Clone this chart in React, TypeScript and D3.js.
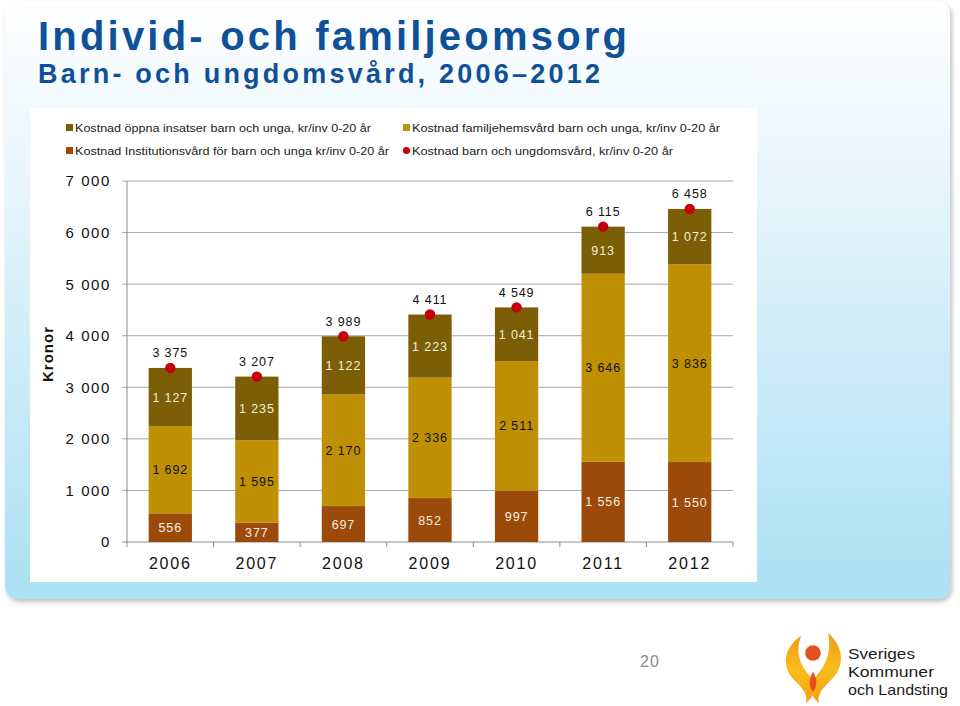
import React from "react";
import * as d3 from "d3";

const years = ["2006", "2007", "2008", "2009", "2010", "2011", "2012"];
const institution = [556, 377, 697, 852, 997, 1556, 1550];
const familjehem = [1692, 1595, 2170, 2336, 2511, 3646, 3836];
const oppna = [1127, 1235, 1122, 1223, 1041, 913, 1072];
const totals = [3375, 3207, 3989, 4411, 4549, 6115, 6458];
const yTicks = [0, 1000, 2000, 3000, 4000, 5000, 6000, 7000];

const seriesNames = [
  "Kostnad öppna insatser barn och unga, kr/inv 0-20 år",
  "Kostnad familjehemsvård barn och unga, kr/inv 0-20 år",
  "Kostnad Institutionsvård för barn och unga kr/inv 0-20 år",
  "Kostnad barn och ungdomsvård, kr/inv 0-20 år",
];

const C_INST = "#9b4a0a";
const C_FAM = "#bf9004";
const C_OPP = "#7b5e06";
const C_RED = "#c4000b";
const FONT = "'Liberation Sans', Arial, sans-serif";
const NARROW = "'Liberation Sans Narrow', 'Arial Narrow', 'Liberation Sans', sans-serif";

const fmt = (v: number) => {
  const s = String(v);
  return s.length > 3 ? s.slice(0, s.length - 3) + " " + s.slice(s.length - 3) : s;
};

export default function App() {
  const x = d3.scaleBand<string>().domain(years).range([127, 733]).paddingInner(0.5).paddingOuter(0.25);
  const y = d3.scaleLinear().domain([0, 7000]).range([542, 181]);
  const step = x.step();

  const rows = years.map((yr, i) => ({
    year: yr,
    institution: institution[i],
    familjehem: familjehem[i],
    oppna: oppna[i],
  }));
  const stack = d3.stack<any>().keys(["institution", "familjehem", "oppna"])(rows);
  const colors: Record<string, string> = { institution: C_INST, familjehem: C_FAM, oppna: C_OPP };
  const textColors: Record<string, string> = { institution: "#f6efe0", familjehem: "#111", oppna: "#f4efd8" };

  const legend = [
    { x: 66, y: 128, type: "rect", color: C_OPP, text: seriesNames[0], len: 296 },
    { x: 403, y: 128, type: "rect", color: C_FAM, text: seriesNames[1], len: 308 },
    { x: 66, y: 151, type: "rect", color: C_INST, text: seriesNames[2], len: 314 },
    { x: 403, y: 151, type: "dot", color: C_RED, text: seriesNames[3], len: 261 },
  ];

  const logoFont = "'Liberation Sans', Arial, sans-serif";
  const logoLines = [
    { t: "Sveriges", y: 659, len: 67 },
    { t: "Kommuner", y: 677, len: 86 },
    { t: "och Landsting", y: 695, len: 100 },
  ];

  return (
    <svg width={960} height={706} style={{ position: "absolute", left: 0, top: 0, background: "#fff" }} fontFamily={FONT}>
      <defs>
        <linearGradient id="panelGrad" x1="0" y1="0" x2="0" y2="1">
          <stop offset="0%" stopColor="#ffffff" />
          <stop offset="18%" stopColor="#f1f9fd" />
          <stop offset="55%" stopColor="#d2edf8" />
          <stop offset="100%" stopColor="#aae1f3" />
        </linearGradient>
        <filter id="shadow" x="-5%" y="-5%" width="110%" height="110%">
          <feDropShadow dx="2" dy="3" stdDeviation="2.5" floodColor="#000" floodOpacity="0.25" />
        </filter>
        <linearGradient id="flame" x1="0" y1="0" x2="0" y2="1">
          <stop offset="0%" stopColor="#f39a12" />
          <stop offset="50%" stopColor="#f8bd1c" />
          <stop offset="100%" stopColor="#f3a010" />
        </linearGradient>
      </defs>

      {/* panel */}
      <rect x={5} y={1} width={945} height={598} rx={13} fill="url(#panelGrad)" filter="url(#shadow)" />
      <rect x={30} y={108} width={727} height={474} fill="#ffffff" />

      {/* title */}
      <text x={38} y={50} fontSize={40} fontWeight="bold" fill="#0f5198" fontFamily={NARROW} textLength={589} lengthAdjust="spacing">
        Individ- och familjeomsorg
      </text>
      <text x={38} y={83} fontSize={27} fontWeight="bold" fill="#0f5198" fontFamily={NARROW} textLength={562} lengthAdjust="spacing">
        Barn- och ungdomsvård, 2006–2012
      </text>

      {/* legend */}
      {legend.map((l, i) => (
        <g key={i}>
          {l.type === "rect" ? (
            <rect x={l.x} y={l.y - 4} width={7} height={7} fill={l.color} />
          ) : (
            <circle cx={l.x + 3.5} cy={l.y - 0.5} r={3.6} fill={l.color} />
          )}
          <text x={l.x + 9} y={l.y + 4} fontSize={11.5} fill="#222" textLength={l.len} lengthAdjust="spacingAndGlyphs">
            {l.text}
          </text>
        </g>
      ))}

      {/* gridlines & y axis */}
      {yTicks.map((t) => (
        <g key={t}>
          {t > 0 && <line x1={122} x2={733} y1={y(t)} y2={y(t)} stroke="#a8a8a8" strokeWidth={1} />}
          {t === 0 && <line x1={122} x2={127} y1={y(t)} y2={y(t)} stroke="#8c8c8c" strokeWidth={1} />}
          <text x={111} y={y(t)} dy="0.36em" textAnchor="end" fontSize={15} letterSpacing={1.6} fill="#111">
            {fmt(t)}
          </text>
        </g>
      ))}
      <line x1={127} x2={127} y1={y(7000)} y2={y(0)} stroke="#8c8c8c" strokeWidth={1} />
      <line x1={127} x2={733} y1={y(0)} y2={y(0)} stroke="#8c8c8c" strokeWidth={1} />
      {d3.range(8).map((k) => (
        <line key={k} x1={127 + k * step} x2={127 + k * step} y1={y(0)} y2={y(0) + 5} stroke="#8c8c8c" strokeWidth={1} />
      ))}
      <text transform={`translate(53,354) rotate(-90)`} textAnchor="middle" fontSize={15} fontWeight="bold" letterSpacing={1} fill="#111">
        Kronor
      </text>

      {/* bars */}
      {stack.map((s) => (
        <g key={s.key}>
          {s.map((d, i) => {
            const yr = years[i];
            const x0 = x(yr)!;
            const top = y(d[1]);
            const bot = y(d[0]);
            return (
              <g key={yr}>
                <rect x={x0} y={top} width={x.bandwidth()} height={bot - top} fill={colors[s.key]} />
                <text
                  x={x0 + x.bandwidth() / 2}
                  y={(top + bot) / 2}
                  dy="0.36em"
                  textAnchor="middle"
                  fontSize={12.5}
                  letterSpacing={0.9}
                  fill={textColors[s.key]}
                >
                  {fmt(d[1] - d[0])}
                </text>
              </g>
            );
          })}
        </g>
      ))}

      {/* totals */}
      {totals.map((t, i) => {
        const cx = x(years[i])! + x.bandwidth() / 2;
        return (
          <g key={i}>
            <circle cx={cx} cy={y(t)} r={5.2} fill={C_RED} />
            <text x={cx} y={y(t) - 15} dy="0.36em" textAnchor="middle" fontSize={12.5} letterSpacing={0.9} fill="#111">
              {fmt(t)}
            </text>
          </g>
        );
      })}

      {/* x labels */}
      {years.map((yr) => (
        <text key={yr} x={x(yr)! + x.bandwidth() / 2} y={563} dy="0.36em" textAnchor="middle" fontSize={16} letterSpacing={1.8} fill="#111">
          {yr}
        </text>
      ))}

      {/* page number */}
      <text x={640} y={667} fontSize={16} fill="#8a8a8a" letterSpacing={1}>20</text>

      {/* logo */}
      <g>
        <path d="M801,636 C783,648 781,668 795,681 C803,689 808,694 806,703 C818,694 816,683 809,675 C800,665 795,652 801,636 Z" fill="url(#flame)" />
        <path d="M828,633 C846,648 844,669 830,681 C822,689 817,695 819,703 C808,694 810,683 817,675 C826,665 832,651 828,633 Z" fill="url(#flame)" />
        <circle cx={813} cy={653} r={7.8} fill="#e2501f" />
        <path d="M813,672 C817,678 818,686 813,692 C808,686 809,678 813,672 Z" fill="#e2501f" />
        {logoLines.map((l) => (
          <text key={l.t} x={848} y={l.y} fontSize={15} fill="#1b1b1b" fontFamily={logoFont} textLength={l.len} lengthAdjust="spacingAndGlyphs">
            {l.t}
          </text>
        ))}
      </g>
    </svg>
  );
}
